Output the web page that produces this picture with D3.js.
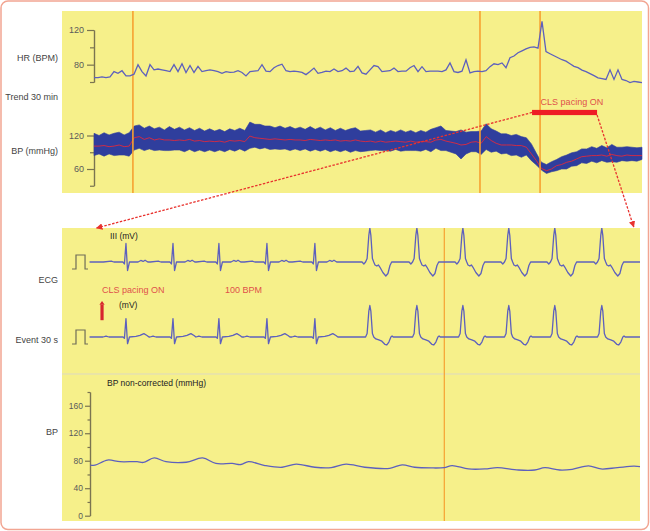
<!DOCTYPE html>
<html><head><meta charset="utf-8">
<script src="https://cdn.jsdelivr.net/npm/d3@7"></script>
<style>body{margin:0;background:#fff}svg{display:block}text{font-family:"Liberation Sans",Arial,sans-serif}</style>
</head><body><svg id="c" width="650" height="531"></svg>
<script>
// ---------- DATA ----------
// Trend 30 min: heart rate (BPM), uniformly sampled over 30 minutes
const hrValues=[65,65,66,65,66,72,70,73,67,67,
69,80,72,67,80,74,75,74,73,72,
80,72,81,71,79,71,78,72,73,74,
73,72,70,72,71,71.5,73,71,67,72,
72.5,73,80,72.5,72,76.5,79,80.5,73,72,
72.5,72,71,68.5,72,76,70,71,72.5,72,
75,72,73,76,72,72.5,78,70.5,69,74,
79,77.7,72,72.5,73,76,72,72.5,72.5,76.5,
79,72,77.7,72,72.5,72.5,72.5,72,74,82,
72,71,72.5,85.7,70.5,72,72.5,72,73,77.7,
81,80,82,76.5,88,90,93.7,96,98.3,100,
100.6,99,130,95,92.6,90.3,88,85.7,84,81,
78,76.6,73.7,72,69.7,67.4,64.8,64,63,74,
63,74,63,61.7,59.4,60.6,60,59.4];
// Trend 30 min: blood pressure envelope (mmHg)
const bpSys=[124,120,125,121,124,126,121,125,137,139,
133,137,132,135,130,136,131,135,130,134,
129,133,128,132,128,131,127,132,129,133,
129,144,140,140,137,137,134,137,133,136,
132,135,131,136,131,135,130,134,129,133,
129,132,134,128,129,130,126,130,125,129,
126,130,126,129,125,129,126,131,134,137,
129,128,127,130,126,127,127,128,141,132,
128,123,123,120,122,118,116,105,88,72,
68,73,77,82,85,89,91,96,96,100,
97,102,98,104,99,99,100,99,98,99];
const bpDia=[84,87,83,87,84,85,85,83,94,97,
93,96,93,94,93,93,94,94,91,95,
91,94,91,94,91,94,91,95,92,96,
92,97,99,96,98,95,96,95,96,93,
96,93,96,92,95,92,95,91,94,91,
94,90,93,91,92,93,94,93,93,92,
95,92,93,93,93,92,95,91,97,93,
93,90,87,78,87,91,91,86,95,90,
92,87,88,84,85,81,85,75,67,58,
52,55,57,60,60,65,66,71,70,74,
71,75,72,73,72,75,74,75,74,77];
const bpMean=[101,101,102,100,101,103,100,101,116,118,
113,116,112,114,112,112,111,112,111,113,
110,111,109,110,109,110,108,111,110,111,
109,119,116,115,114,113,114,113,112,113,
112,112,111,113,112,111,112,111,112,110,
111,110,112,110,109,110,108,110,108,109,
110,109,108,110,108,109,109,108,112,113,
110,108,106,103,104,108,109,106,118,111,
106,103,103,103,102,102,99,87,75,61,
57,60,66,68,72,74,78,82,83,84,
84,85,83,86,84,83,85,84,84,84];
const trendEvents=[2.13,21.13,24.42];      // minutes
const pacingWindow=[23.98,27.54];          // minutes
const hrMajorTicks=[80,120], hrMinorTicks=[60,100];
const bpMajorTicks=[60,120], bpMinorTicks=[30,90];

// Event 30 s: beats (seconds) and beat morphology templates [s, mV]
const beatTimes=[0.487,1.090,1.679,2.295,2.910,3.615,4.218,4.808,5.397,5.987,6.590];
const beatKinds=["n","n","n","n","n","w","w","w","w","w","w"];
const leadIIINarrow=[[-0.29,0],[-0.19,0.07],[-0.155,0],[-0.04,0],[-0.02,-0.14],[0,1.32],[0.02,-0.61],[0.045,0],[0.155,0],[0.19,0.11],[0.22,0.04],[0.245,0.13],[0.28,0],[0.29,0]];
const leadIIIWide=[[-0.28,0],[-0.1,0],[-0.077,-0.14],[-0.055,0],[-0.035,0.25],[-0.013,1.9],[0,2.43],[0.013,1.9],[0.033,0.25],[0.05,0],[0.066,-0.21],[0.09,-0.29],[0.109,-0.21],[0.128,-0.36],[0.167,-0.75],[0.205,-1.0],[0.232,-0.82],[0.258,-0.25],[0.28,0]];
const eventNarrow=[[-0.295,0],[-0.256,0.07],[-0.218,0],[-0.038,0],[-0.02,-0.1],[0,1.31],[0.02,-0.48],[0.045,0],[0.128,0.04],[0.18,0.11],[0.23,0.24],[0.27,0.11],[0.295,0]];
const eventWide=[[-0.28,0],[-0.055,0],[-0.035,0.25],[-0.013,1.85],[0,2.25],[0.013,1.85],[0.033,0.25],[0.05,0],[0.077,-0.14],[0.115,-0.21],[0.154,-0.3],[0.192,-0.52],[0.218,-0.57],[0.244,-0.36],[0.27,0],[0.285,0.07],[0.3,0]];
const calPulse=[[-0.205,-0.5],[-0.154,-0.5],[-0.154,0.5],[-0.038,0.5],[-0.038,-0.5],[0,-0.5]];
const eventMarker=4.57;   // seconds
const pacingOnTime=0.18;  // seconds
// BP non-corrected (mmHg)
const bpNcTimes=[0.03,0.09,0.25,0.41,0.63,0.71,0.85,1.00,1.26,1.47,1.64,1.85,1.96,2.06,2.27,2.49,2.67,2.91,3.12,3.31,3.55,3.87,4.03,4.19,4.40,4.57,4.67,4.88,5.09,5.25,5.52,5.73,5.86,6.05,6.21,6.42,6.58,6.79,7.00,7.08];
const bpNcValues=[73.7,73.5,81,78.6,78.6,77.5,84,78.6,77.8,84,76,76,74.5,78.6,73,70.5,75,70.5,70,75,70.5,69,74,70.5,69.5,70,73,68,68,70,66.5,66.5,70,66.5,67.5,72.5,68,70,72,71.5];
const ncMajorTicks=[0,40,80,120,160], ncMinorTicks=[20,60,100,140,180];

// ---------- DRAW ----------
const svg=d3.select("#c");
const YEL="#f6f08a", ORANGE="#f7a131", AX="#7a7450", TRACE="#5d60bd", RED="#e8322e";
svg.append("rect").attr("x",1).attr("y",1).attr("width",647.5).attr("height",528.5).attr("rx",7)
  .attr("fill","#fff").attr("stroke","#f2a592").attr("stroke-width",1.5);
const defs=svg.append("defs");

// Top panel
const topP={x0:62,x1:642,y0:11,y1:193};
svg.append("rect").attr("x",topP.x0).attr("y",topP.y0).attr("width",topP.x1-topP.x0).attr("height",topP.y1-topP.y0).attr("fill",YEL);
const xT=d3.scaleLinear().domain([0,30]).range([94,642]);
const yHR=d3.scaleLinear().domain([60,120]).range([82,30]);
const yBP=d3.scaleLinear().domain([30,120]).range([185.75,135.5]);

function axis(scale,x,majors,minors,majLen,minLen,pad,fs){
  const g1=svg.append("g").attr("transform",`translate(${x},0)`)
    .call(d3.axisLeft(scale).tickValues(minors).tickSize(minLen).tickSizeOuter(0).tickFormat(""));
  const g2=svg.append("g").attr("transform",`translate(${x},0)`)
    .call(d3.axisLeft(scale).tickValues(majors).tickSize(majLen).tickSizeOuter(0).tickPadding(pad));
  [g1,g2].forEach(g=>{g.selectAll("path,line").attr("stroke",AX).attr("stroke-width",1.2);
    g.selectAll("text").attr("fill","#5a5a5a").attr("font-size",fs).attr("font-family","Liberation Sans, Arial, sans-serif");});
}
axis(yHR,94,hrMajorTicks,hrMinorTicks,7,4,3,9);
axis(yBP,94,bpMajorTicks,bpMinorTicks,7,4,3,9);

// BP band
const tBP=i=>i*30/(bpSys.length-1);
svg.append("path").datum(bpSys.map((s,i)=>({t:tBP(i),hi:s,lo:bpDia[i]})))
  .attr("d",d3.area().x(d=>xT(d.t)).y0(d=>yBP(d.lo)).y1(d=>yBP(d.hi)))
  .attr("fill","#2f3e9d").attr("stroke","#2f3e9d").attr("stroke-width",0.6);
svg.append("path").datum(bpMean.map((m,i)=>({t:tBP(i),v:m})))
  .attr("d",d3.line().x(d=>xT(d.t)).y(d=>yBP(d.v)))
  .attr("fill","none").attr("stroke","#e0293d").attr("stroke-width",0.9);

// event lines top
svg.selectAll(".ev").data(trendEvents).join("line")
  .attr("x1",d=>xT(d)).attr("x2",d=>xT(d)).attr("y1",topP.y0).attr("y2",topP.y1)
  .attr("stroke",ORANGE).attr("stroke-width",1.6);

// HR line
const tHR=i=>i*30/(hrValues.length-1);
svg.append("path").datum(hrValues.map((v,i)=>({t:tHR(i),v})))
  .attr("d",d3.line().x(d=>xT(d.t)).y(d=>yHR(d.v)))
  .attr("fill","none").attr("stroke",TRACE).attr("stroke-width",1.3);

// text labels top
const lab=(x,y,s,opt={})=>svg.append("text").attr("x",x).attr("y",y).text(s)
  .attr("text-anchor",opt.anchor||"end").attr("font-size",opt.fs||9).attr("fill",opt.fill||"#444");
lab(58,60.5,"HR (BPM)");
lab(58,100,"Trend 30 min");
lab(58,153.5,"BP (mmHg)");

// Middle/bottom panel
const mid={x0:62,x1:640,y0:228,y1:521};
svg.append("rect").attr("x",mid.x0).attr("y",mid.y0).attr("width",mid.x1-mid.x0).attr("height",mid.y1-mid.y0).attr("fill",YEL);
svg.append("line").attr("x1",mid.x0).attr("x2",mid.x1).attr("y1",374).attr("y2",374).attr("stroke","#dcd9c2").attr("stroke-width",1);
defs.append("clipPath").attr("id","midclip").append("rect")
  .attr("x",mid.x0).attr("y",mid.y0).attr("width",mid.x1-mid.x0).attr("height",mid.y1-mid.y0);

const xE=d3.scaleLinear().domain([0,7.08]).range([88,640]);
const yIII=d3.scaleLinear().domain([0,1]).range([262,248]);
const yEv=d3.scaleLinear().domain([0,1]).range([337,323]);
const yNC=d3.scaleLinear().domain([0,180]).range([515.7,392]);

svg.append("line").attr("x1",xE(eventMarker)).attr("x2",xE(eventMarker)).attr("y1",mid.y0).attr("y2",mid.y1)
  .attr("stroke",ORANGE).attr("stroke-width",1.2);

function buildTrace(narrow,wide){
  let pts=[[0.02,0]];
  beatTimes.forEach((bt,i)=>{(beatKinds[i]==="n"?narrow:wide).forEach(p=>pts.push([bt+p[0],p[1]]));});
  pts.push([7.08,0]);
  pts.sort((a,b)=>a[0]-b[0]);
  return pts;
}
const ecgLine=y=>d3.line().x(d=>xE(d[0])).y(d=>y(d[1]));
const gE=svg.append("g").attr("clip-path","url(#midclip)");
gE.append("path").attr("d",ecgLine(yIII)(buildTrace(leadIIINarrow,leadIIIWide)))
  .attr("fill","none").attr("stroke",TRACE).attr("stroke-width",1.3).attr("stroke-linejoin","round");
gE.append("path").attr("d",ecgLine(yEv)(buildTrace(eventNarrow,eventWide)))
  .attr("fill","none").attr("stroke",TRACE).attr("stroke-width",1.3).attr("stroke-linejoin","round");
[yIII,yEv].forEach(y=>svg.append("path").attr("d",ecgLine(y)(calPulse))
  .attr("fill","none").attr("stroke","#6f6d58").attr("stroke-width",1.2));

// bottom BP axis + line
axis(yNC,90,ncMajorTicks,ncMinorTicks,5,2.5,2,8.5);
svg.append("path").datum(bpNcTimes.map((t,i)=>[t,bpNcValues[i]]))
  .attr("d",d3.line().x(d=>xE(d[0])).y(d=>yNC(d[1])).curve(d3.curveCatmullRom))
  .attr("fill","none").attr("stroke",TRACE).attr("stroke-width",1.3);

// mid labels
lab(110,238.5,"III (mV)",{anchor:"start",fs:8.5,fill:"#222"});
lab(58,282.5,"ECG");
lab(58,343,"Event 30 s");
lab(119,307.5,"(mV)",{anchor:"start",fs:8.5,fill:"#222"});
lab(107,385.5,"BP non-corrected (mmHg)",{anchor:"start",fs:8.5,fill:"#222"});
lab(58,435,"BP");
lab(xE(0.18),292.5,"CLS pacing ON",{anchor:"start",fs:9,fill:"#e0514b"});
lab(225,292.5,"100 BPM",{anchor:"start",fs:9,fill:"#e0514b"});

// red pacing arrow
const ax=xE(pacingOnTime);
svg.append("line").attr("x1",ax).attr("x2",ax).attr("y1",yEv(1.2)).attr("y2",yEv(2.3))
  .attr("stroke","#d7262e").attr("stroke-width",3.2);
svg.append("path").attr("d",`M${ax-2.6},${yEv(2.3)}L${ax},${yEv(2.5)-1}L${ax+2.6},${yEv(2.3)}Z`).attr("fill","#d7262e");

// pacing annotation (top panel)
const barLevel=161.2;
svg.append("text").attr("x",xT(24.45)).attr("y",105).text("CLS pacing ON")
  .attr("font-size",9).attr("fill","#e0514b");
defs.append("marker").attr("id","ah").attr("viewBox","0 0 10 10").attr("refX",9).attr("refY",5)
  .attr("markerWidth",5).attr("markerHeight",5).attr("orient","auto")
  .append("path").attr("d","M0,0L10,5L0,10Z").attr("fill",RED);
const bx0=xT(pacingWindow[0]), bx1=xT(pacingWindow[1]), by=yBP(barLevel);
svg.append("line").attr("x1",bx0).attr("y1",by).attr("x2",xE(0.11)).attr("y2",mid.y0)
  .attr("stroke",RED).attr("stroke-width",1.3).attr("stroke-dasharray","2.5,1.5").attr("marker-end","url(#ah)");
svg.append("line").attr("x1",bx1).attr("y1",by+2.5).attr("x2",xE(7.0)).attr("y2",mid.y0-1)
  .attr("stroke",RED).attr("stroke-width",1.3).attr("stroke-dasharray","2.5,1.5").attr("marker-end","url(#ah)");
svg.append("rect").attr("x",bx0).attr("y",by-2.6).attr("width",bx1-bx0).attr("height",5.2).attr("fill","#ee1c25");
</script></body></html>
